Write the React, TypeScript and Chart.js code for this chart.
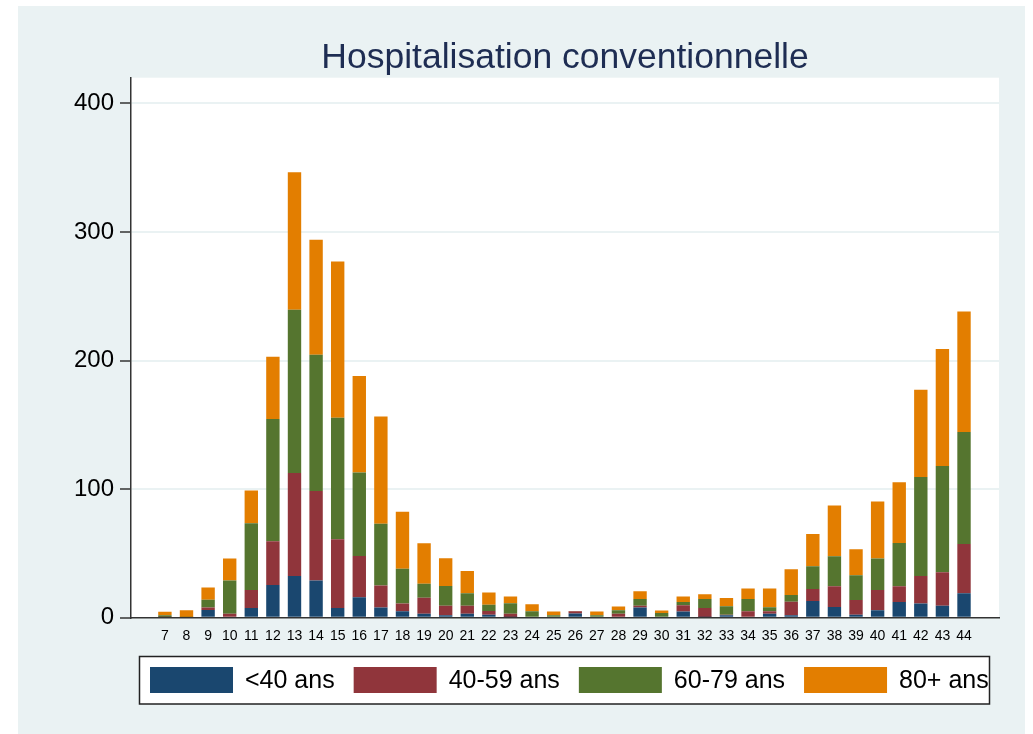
import React, { useEffect, useRef } from 'react';
import { Chart, registerables } from 'chart.js';

Chart.register(...registerables);

const weeks = [7, 8, 9, 10, 11, 12, 13, 14, 15, 16, 17, 18, 19, 20, 21, 22, 23, 24, 25, 26, 27, 28, 29, 30, 31, 32, 33, 34, 35, 36, 37, 38, 39, 40, 41, 42, 43, 44];

const under40 = [0, 0, 6, 0, 7.5, 25.5, 32.5, 29, 7.5, 16, 8, 5, 3, 2, 3, 2.2, 0.5, 0, 0, 3.2, 0, 0, 7.9, 0, 4.8, 0.5, 2, 0, 3, 2, 13, 8.3, 2.2, 5.8, 12.3, 11, 9.2, 19];
const age40to59 = [0.5, 0, 2, 3, 14, 34, 80, 69.5, 53.5, 32, 17, 6, 12.5, 7.2, 6.2, 3.1, 2.5, 0, 0, 1.8, 0, 3, 1.3, 0, 4.9, 7.1, 0.3, 5, 2, 10.5, 9.4, 16.1, 11.6, 15.8, 12.2, 21.5, 26.2, 38.3];
const age60to79 = [1.5, 0.5, 6, 26, 52, 95, 127, 106, 94.5, 65, 48, 27, 11, 15.5, 9.8, 4.7, 8.3, 5, 2, 0, 2, 2.8, 5.4, 3.7, 2.6, 7, 6.6, 9.6, 3.2, 5.2, 17.6, 23.3, 19.2, 24.4, 33.6, 76.9, 82.6, 87.1];
const age80plus = [2.6, 5.3, 9.4, 17, 25.5, 48.5, 107, 89.5, 121.5, 75, 83.5, 44.5, 31.5, 21.5, 17.4, 9.6, 5.2, 5.5, 2.8, 0.3, 2.8, 2.9, 6, 1.9, 4.2, 3.7, 6.5, 8.1, 14.5, 20, 25.1, 39.6, 20.2, 44.3, 47.2, 67.9, 90.9, 93.8];

const seriesLabels = ['<40 ans', '40-59 ans', '60-79 ans', '80+ ans'];
const seriesColors = ['#1a476f', '#90353b', '#55752f', '#e37e00'];
const yTicks = [0, 100, 200, 300, 400];
const titleText = 'Hospitalisation conventionnelle';

const FONT = "'Liberation Sans', Arial, Helvetica, sans-serif";

const backgroundPlugin = {
  id: 'stataBackground',
  beforeDraw(chart: any) {
    const { ctx, chartArea } = chart;
    ctx.save();
    ctx.fillStyle = '#ffffff';
    ctx.fillRect(0, 0, chart.width, chart.height);
    ctx.fillStyle = '#eaf2f3';
    ctx.fillRect(18, 6, 1007, 728);
    ctx.fillStyle = '#ffffff';
    ctx.fillRect(chartArea.left, chartArea.top, chartArea.right - chartArea.left, chartArea.bottom - chartArea.top);
    ctx.restore();
  },
};

const legendPlugin = {
  id: 'boxedLegend',
  afterDraw(chart: any) {
    const { ctx } = chart;
    const boxLeft = 139.5;
    const boxTop = 656.5;
    const boxRight = 989.5;
    const boxBottom = 704;
    ctx.save();
    ctx.fillStyle = '#ffffff';
    ctx.fillRect(boxLeft, boxTop, boxRight - boxLeft, boxBottom - boxTop);
    ctx.strokeStyle = '#222222';
    ctx.lineWidth = 1.5;
    ctx.strokeRect(boxLeft, boxTop, boxRight - boxLeft, boxBottom - boxTop);
    ctx.font = `25px ${FONT}`;
    ctx.textBaseline = 'middle';
    ctx.textAlign = 'left';
    let x = 150;
    const swW = 83;
    const swH = 26;
    const swTop = 667;
    chart.data.datasets.forEach((ds: any) => {
      ctx.fillStyle = ds.backgroundColor;
      ctx.fillRect(x, swTop, swW, swH);
      ctx.fillStyle = '#000000';
      const tx = x + swW + 12;
      ctx.fillText(ds.label, tx, swTop + swH / 2 + 1);
      x = tx + ctx.measureText(ds.label).width + 19;
    });
    ctx.restore();
  },
};

export default function App() {
  const canvasRef = useRef<HTMLCanvasElement | null>(null);

  useEffect(() => {
    if (!canvasRef.current) return;
    const seriesData = [under40, age40to59, age60to79, age80plus];
    const chart = new Chart(canvasRef.current, {
      type: 'bar',
      data: {
        labels: weeks,
        datasets: seriesData.map((d, i) => ({
          label: seriesLabels[i],
          data: d,
          backgroundColor: seriesColors[i],
          borderWidth: 0,
          barPercentage: 0.62,
          categoryPercentage: 1,
        })),
      },
      options: {
        responsive: false,
        animation: false,
        devicePixelRatio: 1,
        layout: { padding: { top: 0, left: 0, right: 34, bottom: 86.3 } },
        plugins: {
          legend: { display: false },
          tooltip: { enabled: false },
          title: {
            display: true,
            text: titleText,
            fullSize: false,
            color: '#1e2d53',
            font: { family: FONT, size: 35.5, weight: 'normal', lineHeight: 1.0 },
            padding: { top: 40, bottom: 2.2 },
          },
        },
        scales: {
          x: {
            type: 'linear',
            stacked: true,
            offset: false,
            min: 5.43,
            max: 45.62,
            afterFit: (scale: any) => { scale.height = 30; },
            afterBuildTicks: (scale: any) => { scale.ticks = weeks.map((w) => ({ value: w })); },
            grid: { display: false, drawTicks: false, offset: false },
            border: { display: true, color: '#333333', width: 1.5 },
            ticks: {
              autoSkip: false,
              maxRotation: 0,
              padding: 10.5,
              color: '#000000',
              font: { family: FONT, size: 14 },
              callback: (v: any) => String(v),
            },
          },
          y: {
            stacked: true,
            min: 0,
            max: 420,
            afterFit: (scale: any) => { scale.width = 131; },
            afterBuildTicks: (scale: any) => { scale.ticks = yTicks.map((v) => ({ value: v })); },
            grid: {
              color: '#eaf2f3',
              lineWidth: 2,
              drawTicks: true,
              tickLength: 11,
              tickColor: '#333333',
              tickWidth: 1.5,
            },
            border: { display: true, color: '#333333', width: 1.5 },
            ticks: {
              padding: 6,
              color: '#000000',
              font: { family: FONT, size: 24 },
              callback: (v: any) => String(v),
            },
          },
        },
      },
      plugins: [backgroundPlugin, legendPlugin],
    });
    return () => chart.destroy();
  }, []);

  return (
    <div style={{ position: 'absolute', left: 0, top: 0, width: 1033, height: 734, overflow: 'hidden' }}>
      <canvas ref={canvasRef} width={1033} height={734} style={{ display: 'block' }} />
    </div>
  );
}
